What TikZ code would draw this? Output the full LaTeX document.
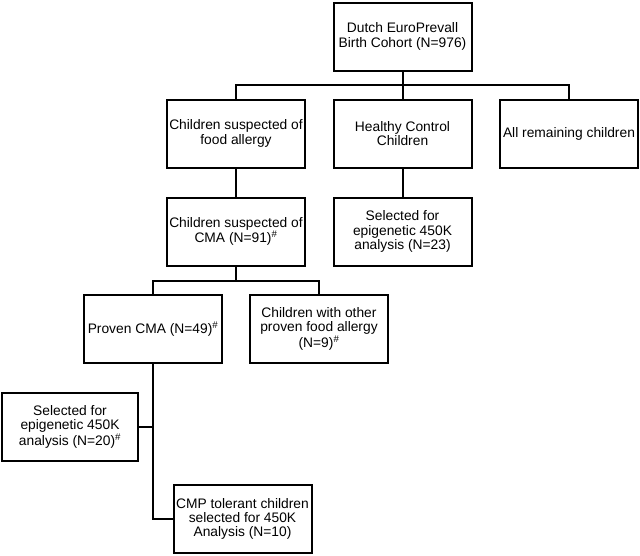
\documentclass[tikz,border=0pt]{standalone}
\usepackage{fontspec}
\setmainfont{Liberation Sans}
\begin{document}
\begin{tikzpicture}[x=1pt,y=-1pt,
  box/.style={draw=black,line width=2pt,minimum width=138pt,minimum height=68pt,inner sep=0pt,align=center,font=\fontsize{13.8}{14.4}\selectfont},
  conn/.style={draw=black,line width=2pt}]
\useasboundingbox (0,0) rectangle (640,555);
\node[box] (top) at (402.5,36.5) {Dutch EuroPrevall\\Birth Cohort (N=976)};
\node[box] (food) at (236,133.5) {Children suspected of\\food allergy};
\node[box] (healthy) at (402.5,133.5) {Healthy Control\\Children};
\node[box] (remaining) at (569,133.5) {All remaining children};
\node[box] (cma) at (236,231.5) {Children suspected of\\CMA (N=91)\textsuperscript{\#}};
\node[box] (sel23) at (402.5,231.5) {Selected for\\epigenetic 450K\\analysis (N=23)};
\node[box] (proven) at (153,329) {Proven CMA (N=49)\textsuperscript{\#}};
\node[box] (other) at (319,329) {Children with other\\proven food allergy\\(N=9)\textsuperscript{\#}};
\node[box,minimum width=136pt] (sel20) at (70,427) {Selected for\\epigenetic 450K\\analysis (N=20)\textsuperscript{\#}};
\node[box] (cmp) at (242.5,519) {CMP tolerant children\\selected for 450K\\Analysis (N=10)};
\coordinate (j1) at (402.5,85);
\coordinate (j2) at (236,281);
\coordinate (j3) at (153,427);
\draw[conn] (top.south) -- (healthy.north);
\draw[conn] (food.north) |- (j1) -| (remaining.north);
\draw[conn] (food.south) -- (cma.north);
\draw[conn] (healthy.south) -- (sel23.north);
\draw[conn] (cma.south) -- (j2);
\draw[conn] (proven.north) |- (j2) -| (other.north);
\draw[conn] (proven.south) |- (cmp.west);
\draw[conn] (sel20.east) -- (j3);
\end{tikzpicture}
\end{document}
